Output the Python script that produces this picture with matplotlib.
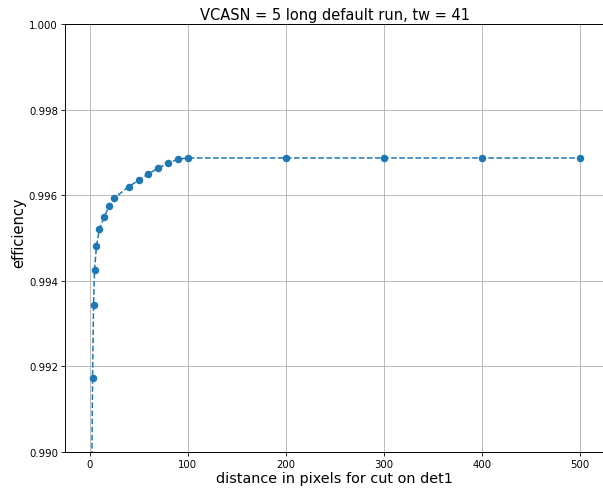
import matplotlib
matplotlib.use("Agg")
import matplotlib.pyplot as plt

# cut distance (pixels) and efficiency
distance = [1, 3, 4, 5, 7, 10, 15, 20, 25, 40, 50, 60, 70, 80, 90, 100, 200, 300, 400, 500]
efficiency = [0.9860, 0.99174, 0.99344, 0.99425, 0.99482, 0.99521, 0.99550, 0.99575, 0.99593,
              0.99620, 0.99635, 0.99650, 0.99663, 0.99675, 0.99684, 0.99687,
              0.99687, 0.99687, 0.99687, 0.99687]

fig = plt.figure(figsize=(6.03, 4.89), dpi=100)
ax = fig.add_axes([0.108, 0.0736, 0.894, 0.8753])
ax.plot(distance, efficiency, "o--", color="#1f77b4", markersize=4.4, linewidth=1.1)
ax.set_xlim(-25, 525)
ax.set_ylim(0.990, 1.000)
ax.set_xticks([0, 100, 200, 300, 400, 500])
ax.set_yticks([0.990, 0.992, 0.994, 0.996, 0.998, 1.000])
ax.tick_params(labelsize=7.3, length=2.6, pad=2.6, width=0.6)
for s in ax.spines.values():
    s.set_linewidth(0.7)
ax.grid(True, color="#b0b0b0", linewidth=0.6)
ax.set_title("VCASN = 5 long default run, tw = 41", fontsize=10.5, pad=3.5)
ax.set_xlabel("distance in pixels for cut on det1", fontsize=10.4, labelpad=1.5)
ax.set_ylabel("efficiency", fontsize=10.5)
ax.yaxis.set_label_coords(-0.073, 0.515)

fig.savefig("out.png", dpi=100)
